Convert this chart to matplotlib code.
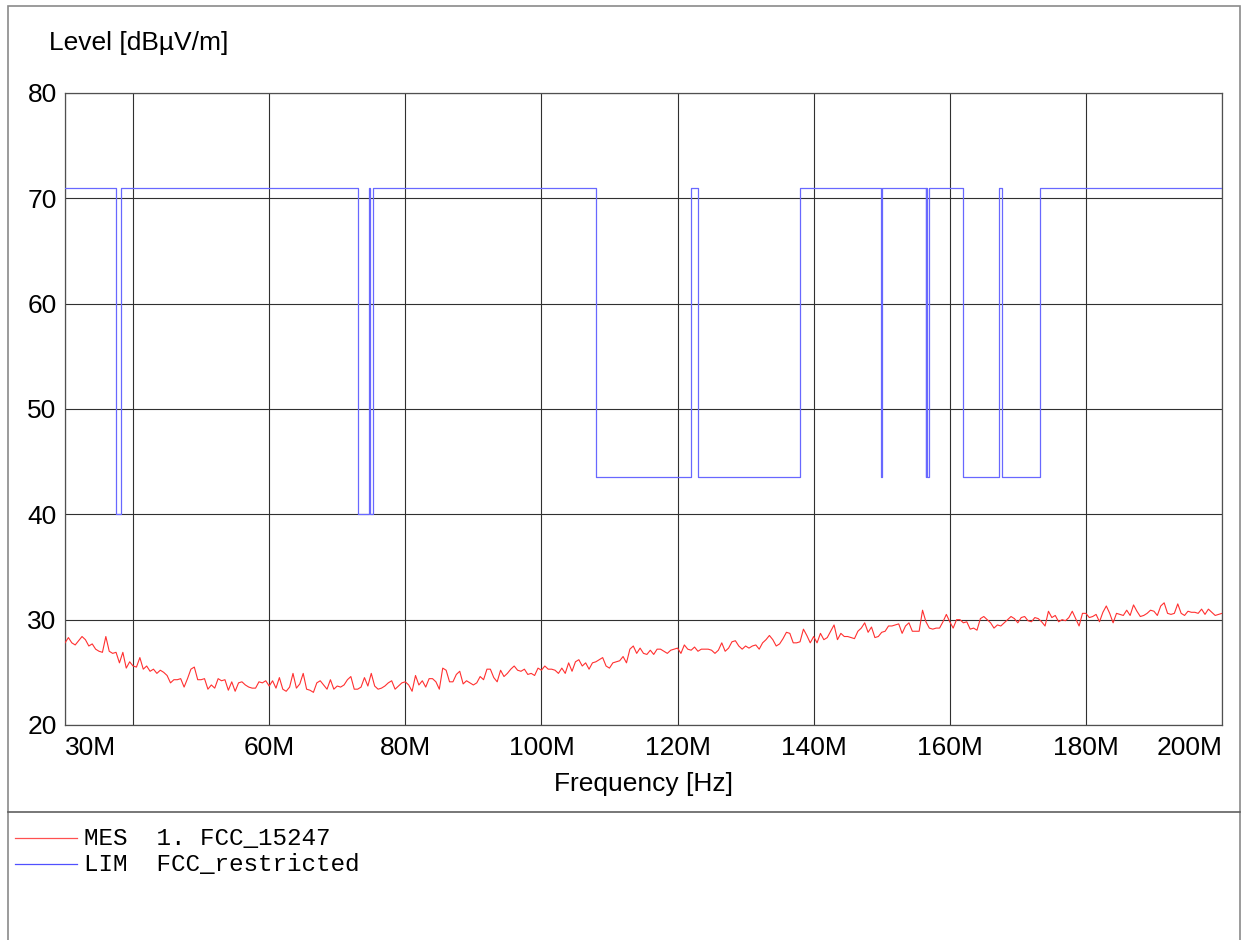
import numpy as np
import matplotlib
matplotlib.use("Agg")
import matplotlib.pyplot as plt
from matplotlib.lines import Line2D
from matplotlib.patches import Rectangle

# ---------------- data ----------------
# measured level (dBuV/m) on a 0.5 MHz sweep from 30 MHz to 200 MHz
level_30_72 = [27.8, 28.3, 27.8, 27.6, 28.0, 28.4, 28.1, 27.5, 27.7, 27.2,
               27.0, 26.9, 28.4, 27.0, 26.8, 26.9, 25.9, 26.9, 25.4, 26.0,
               25.6, 25.5, 26.4, 25.3, 25.6, 25.1, 25.3, 24.9, 25.2, 25.0,
               24.7, 24.0, 24.3, 24.3, 24.4, 23.6, 24.4, 25.3, 25.5, 24.3,
               24.3, 24.4, 23.4, 23.8, 23.5, 24.4, 24.2, 24.3, 23.3, 24.1,
               23.2, 24.0, 24.1, 23.8, 23.6, 23.5, 23.5, 24.1, 24.0, 24.2,
               23.7, 24.2, 23.5, 24.5, 23.4, 23.2, 23.6, 24.9, 23.5, 23.9,
               24.9, 23.4, 23.3, 23.1, 24.0, 24.2, 23.8, 23.4, 24.3, 23.4,
               23.7, 23.6, 23.8, 24.3, 24.6, 23.4]
level_73_115 = [23.4, 23.6, 24.5, 23.7, 24.9, 23.7, 23.4, 23.5, 23.7, 24.0,
                24.2, 23.4, 23.7, 24.0, 24.1, 23.8, 23.2, 24.7, 23.8, 24.2,
                23.6, 24.4, 24.4, 24.1, 23.4, 25.4, 25.2, 24.1, 24.1, 24.8,
                25.1, 23.9, 24.2, 24.0, 23.8, 24.0, 24.6, 24.3, 25.3, 25.3,
                24.5, 24.1, 25.2, 24.6, 24.9, 25.3, 25.6, 25.2, 25.1, 25.3,
                24.8, 24.9, 24.7, 25.4, 25.2, 25.6, 25.3, 25.3, 25.2, 24.9,
                25.4, 24.9, 25.9, 25.1, 26.0, 26.2, 25.6, 25.9, 25.3, 25.9,
                26.0, 26.2, 26.4, 25.6, 25.4, 25.9, 26.0, 26.1, 26.5, 25.9,
                27.2, 27.5, 26.8, 27.3, 26.8]
level_115_157 = [26.7, 27.1, 26.7, 27.2, 27.2, 27.0, 26.8, 27.1, 27.2, 27.3,
                 26.8, 27.6, 27.2, 27.1, 27.4, 27.0, 27.2, 27.2, 27.2, 27.1,
                 26.8, 27.1, 27.8, 27.0, 27.3, 27.9, 28.0, 27.5, 27.2, 27.5,
                 27.3, 27.5, 27.6, 27.2, 27.8, 28.1, 28.5, 28.1, 27.5, 27.7,
                 28.2, 28.8, 28.7, 27.8, 27.8, 27.9, 29.1, 28.5, 27.8, 28.4,
                 27.8, 28.7, 28.1, 28.3, 28.9, 29.5, 28.1, 28.7, 28.4, 28.4,
                 28.3, 28.2, 28.9, 29.2, 29.7, 28.8, 29.3, 28.3, 28.4, 28.8,
                 28.9, 29.4, 29.4, 29.5, 29.6, 28.7, 29.4, 29.7, 28.9, 28.9,
                 28.9, 30.9, 29.8, 29.2, 29.1]
level_158_200 = [29.2, 29.2, 29.8, 30.5, 29.8, 29.2, 30.0, 30.0, 29.7, 29.8,
                 29.1, 29.2, 29.0, 30.1, 30.3, 30.0, 29.7, 29.2, 29.5, 29.4,
                 29.7, 30.0, 30.3, 30.1, 29.7, 30.2, 30.3, 29.9, 29.8, 30.2,
                 30.1, 29.8, 29.4, 30.8, 30.2, 30.4, 29.8, 30.0, 29.9, 30.2,
                 30.8, 30.1, 29.4, 30.6, 30.6, 30.2, 30.3, 30.5, 29.8, 30.7,
                 31.3, 30.6, 29.7, 30.6, 30.5, 30.4, 30.9, 30.4, 31.4, 30.8,
                 30.3, 30.4, 30.6, 30.9, 30.8, 30.4, 31.3, 31.6, 30.6, 30.5,
                 30.6, 31.5, 30.6, 30.4, 30.8, 30.7, 30.7, 30.6, 31.0, 30.5,
                 31.0, 30.7, 30.4, 30.5, 30.6]
mes_level = level_30_72 + level_73_115 + level_115_157 + level_158_200
f_start, f_stop = 30.0, 200.0
mes_freq = np.linspace(f_start, f_stop, len(mes_level))

# limit: FCC restricted bands (MHz) and their limit levels
band_lo = [37.5, 73.0, 74.8, 108.0, 123.0, 149.9, 156.52475, 156.7, 162.0125, 167.72]
band_hi = [38.25, 74.6, 75.2, 121.94, 138.0, 150.05, 156.52525, 156.9, 167.17, 173.2]
band_level = [40, 40, 40, 43.5, 43.5, 43.5, 43.5, 43.5, 43.5, 43.5]
outside_level = 71

x_ticks = [30, 40, 60, 80, 100, 120, 140, 160, 180, 200]
x_labels = ["30M", "", "60M", "80M", "100M", "120M", "140M", "160M", "180M", "200M"]
y_ticks = [20, 30, 40, 50, 60, 70, 80]

legend_entries = [("MES  1. FCC_15247", "#ff5050"), ("LIM  FCC_restricted", "#5050ff")]

# ---------------- figure ----------------
W, H = 1242, 940
fig = plt.figure(figsize=(W / 100, H / 100), dpi=100)
sans = "Liberation Sans"
FS = 19

def fx(px):
    return px / W

def fy(py):
    return 1 - py / H

ax = fig.add_axes([fx(65), fy(725), fx(1222) - fx(65), fy(93) - fy(725)])

# limit step curve
lx, ly = [f_start], [outside_level]
for lo, hi, lv in zip(band_lo, band_hi, band_level):
    lx += [lo, lo, hi, hi]
    ly += [outside_level, lv, lv, outside_level]
lx.append(f_stop)
ly.append(outside_level)

ax.plot(mes_freq, mes_level, color="#ff3030", lw=0.8, zorder=3)
ax.plot(lx, ly, color="#6868ff", lw=0.9, zorder=3)

ax.set_xlim(f_start, f_stop)
ax.set_ylim(20, 80)
ax.set_xticks(x_ticks)
ax.set_xticklabels(x_labels, fontsize=FS, family=sans)
ax.set_yticks(y_ticks)
ax.set_yticklabels([str(v) for v in y_ticks], fontsize=FS, family=sans)
ax.tick_params(axis="x", length=0, pad=8)
ax.tick_params(axis="y", length=0, pad=6)
lbls = ax.get_xticklabels()
lbls[0].set_horizontalalignment("left")
lbls[-1].set_horizontalalignment("right")
ax.grid(True, color="#303030", lw=0.8)
ax.set_axisbelow(True)
for s in ax.spines.values():
    s.set_color("#505050")
    s.set_linewidth(0.9)

fig.text(fx(49), fy(43), "Level [dB\u00b5V/m]", fontsize=FS, family=sans,
         ha="left", va="center")
fig.text(fx(644), fy(784), "Frequency [Hz]", fontsize=FS, family=sans,
         ha="center", va="center")

# outer frame and separator
fig.add_artist(Rectangle((fx(8), -0.01), fx(1240) - fx(8), fy(6) + 0.01,
                         transform=fig.transFigure, fill=False,
                         edgecolor="#8a8a8a", lw=1.2))
fig.add_artist(Line2D([fx(8), fx(1240)], [fy(812), fy(812)],
                      transform=fig.transFigure, color="#606060", lw=1.2))

# legend
for i, (txt, col) in enumerate(legend_entries):
    yy = 838 + 26 * i
    fig.add_artist(Line2D([fx(15), fx(77)], [fy(yy), fy(yy)],
                          transform=fig.transFigure, color=col, lw=0.9))
    fig.text(fx(84), fy(yy), txt, fontsize=17.5, family="Liberation Mono",
             ha="left", va="center")

fig.savefig("out.png", dpi=100)
